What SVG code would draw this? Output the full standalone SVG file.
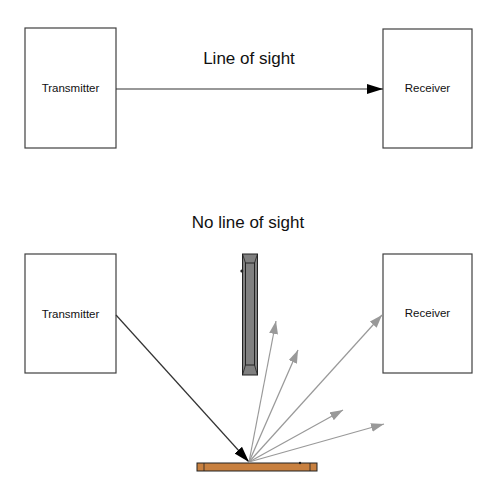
<svg xmlns="http://www.w3.org/2000/svg" width="499" height="493" viewBox="0 0 499 493">
<style>
.box{fill:#fff;stroke:#404040;stroke-width:1.2}
.lbl{font-family:"Liberation Sans",Arial,sans-serif;font-size:11.5px;fill:#111;text-anchor:middle}
.title{font-family:"Liberation Sans",Arial,sans-serif;font-size:17px;fill:#111;text-anchor:middle}
.blk{stroke:#333;stroke-width:1.2;fill:none}
.gry{stroke:#999;stroke-width:1.2;fill:none}
</style>
<defs>
<marker id="ab" markerUnits="userSpaceOnUse" markerWidth="18" markerHeight="12" refX="16" refY="5" orient="auto"><path d="M0,0 L16,5 L0,10 Z" fill="#000"/></marker>
<marker id="ag" markerUnits="userSpaceOnUse" markerWidth="14" markerHeight="10" refX="13" refY="4.5" orient="auto"><path d="M0,0 L13,4.5 L0,9 Z" fill="#999"/></marker>
</defs>
<rect width="499" height="493" fill="#fff"/>
<g id="tx1"><rect class="box" x="25" y="28" width="91" height="120"/><text class="lbl" x="70.5" y="92">Transmitter</text></g>
<g id="rx1"><rect class="box" x="383" y="29" width="89" height="119"/><text class="lbl" x="427.5" y="92">Receiver</text></g>
<text class="title" x="249" y="64">Line of sight</text>
<text class="title" x="248" y="228">No line of sight</text>
<g id="tx2"><rect class="box" x="25" y="254" width="91" height="119"/><text class="lbl" x="70.5" y="318">Transmitter</text></g>
<g id="rx2"><rect class="box" x="383" y="254" width="89" height="119"/><text class="lbl" x="427.5" y="317">Receiver</text></g>
<g id="wall">
<rect x="242.5" y="254" width="15" height="121" fill="#808080" stroke="#222" stroke-width="1"/>
<rect x="245.5" y="263" width="9" height="102" fill="#808080" stroke="#222" stroke-width="1"/>
<path d="M242.5,254 L245.5,263 M257.5,254 L254.5,263 M242.5,375 L245.5,365 M257.5,375 L254.5,365" stroke="#222" stroke-width="0.8"/>
<circle cx="241.8" cy="271" r="1.5" fill="#222"/>
</g>
<g id="floor">
<rect x="197" y="463" width="120" height="8" fill="#c8803f" stroke="#222" stroke-width="1"/>
<path d="M204,463 V471 M310,463 V471" stroke="#222" stroke-width="0.8"/>
<circle cx="300" cy="463" r="1.2" fill="#222"/>
</g>
<g id="connectors">
<line class="blk" x1="116" y1="89" x2="383" y2="89" marker-end="url(#ab)"/>
<line class="blk" x1="116" y1="315" x2="249" y2="462" marker-end="url(#ab)"/>
<line class="gry" x1="249" y1="462" x2="276" y2="321" marker-end="url(#ag)"/>
<line class="gry" x1="249" y1="462" x2="298" y2="350" marker-end="url(#ag)"/>
<line class="gry" x1="249" y1="462" x2="382" y2="315" marker-end="url(#ag)"/>
<line class="gry" x1="249" y1="462" x2="343" y2="410" marker-end="url(#ag)"/>
<line class="gry" x1="249" y1="462" x2="384" y2="424" marker-end="url(#ag)"/>
</g>
</svg>
